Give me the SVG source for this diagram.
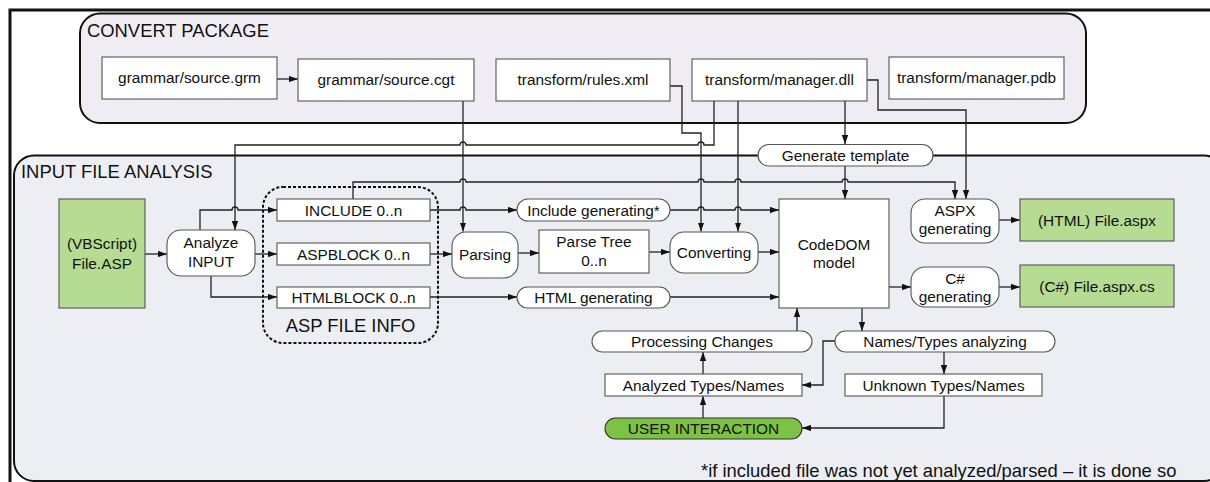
<svg xmlns="http://www.w3.org/2000/svg" width="1210" height="482" viewBox="0 0 1210 482">
<defs>
<style>
text{font-family:"Liberation Sans",Arial,sans-serif;fill:#111;}
.t{font-size:15.4px;text-anchor:middle;}
.big{font-size:18.4px;}
.box{fill:#fff;stroke:#555;stroke-width:1.1;}
.green{fill:#b5dc92;stroke:#555;stroke-width:1.1;}
.user{fill:#7dc242;stroke:#333;stroke-width:1.1;}
.con{fill:none;stroke:#222;stroke-width:1.3;}
.arr{marker-end:url(#ah);}
</style>
<marker id="ah" viewBox="0 0 10 7" refX="10" refY="3.5" markerWidth="9" markerHeight="6.5" markerUnits="userSpaceOnUse" orient="auto">
<path d="M0,0 L10,3.5 L0,7 z" fill="#111"/>
</marker>
</defs>
<rect width="1210" height="482" fill="#fff"/>
<path d="M10,482 V10 H1210" fill="none" stroke="#111" stroke-width="3"/>

<g id="convert-package">
<rect x="80" y="13.5" width="1006" height="109.5" rx="20" fill="#efedf3" stroke="#111" stroke-width="2"/>
<text class="big" x="87" y="37">CONVERT PACKAGE</text>
</g>
<g id="input-file-analysis">
<rect x="14" y="155.5" width="1210" height="325.5" rx="20" fill="#eceef4" stroke="#111" stroke-width="2"/>
<text class="big" x="21" y="178">INPUT FILE ANALYSIS</text>
</g>

<g id="connectors">
<path class="con arr" d="M277,79 H298"/>
<path class="con arr" d="M463,101 V231.5"/>
<path class="con arr" d="M714,101 V145 H704 a3,3 0 0 0 -6,0 H466 a3,3 0 0 0 -6,0 H235 V230"/>
<path class="con arr" d="M670,86 H682 V133 H701 V231.5"/>
<path class="con arr" d="M738,101 V231.5"/>
<path class="con arr" d="M845,101 V144"/>
<path class="con arr" d="M867,80 H878 V110 H966 V199"/>
<path class="con arr" d="M845,166 V199"/>
<path class="con arr" d="M353,199 V182 H460 a3,3 0 0 1 6,0 H698 a3,3 0 0 1 6,0 H735 a3,3 0 0 1 6,0 H842 a3,3 0 0 1 6,0 H955 V199"/>
<path class="con arr" d="M145,254 H167"/>
<path class="con arr" d="M200,230 V210 H232 a3,3 0 0 1 6,0 H277"/>
<path class="con arr" d="M255,254 H277"/>
<path class="con arr" d="M211,276 V297 H277"/>
<path class="con arr" d="M430,210 H460 a3,3 0 0 1 6,0 H517"/>
<path class="con arr" d="M670,210 H698 a3,3 0 0 1 6,0 H735 a3,3 0 0 1 6,0 H779"/>
<path class="con arr" d="M430,254 H452"/>
<path class="con arr" d="M518,253 H539"/>
<path class="con arr" d="M649,252 H670"/>
<path class="con arr" d="M758,252 H779"/>
<path class="con arr" d="M430,297 H517"/>
<path class="con arr" d="M670,297 H779"/>
<path class="con arr" d="M999,220 H1020"/>
<path class="con arr" d="M889,287 H911"/>
<path class="con arr" d="M999,287 H1020"/>
<path class="con arr" d="M862,308 V331"/>
<path class="con arr" d="M797,331 V308"/>
<path class="con arr" d="M835,341 H823 V385 H802"/>
<path class="con arr" d="M944,352 V374"/>
<path class="con arr" d="M703,374 V352"/>
<path class="con arr" d="M703,418 V396"/>
<path class="con arr" d="M944,396 V428 H802"/>
</g>

<g id="grammar-grm"><rect class="box" x="102" y="57" width="175" height="42"/><text class="t" x="189.5" y="83">grammar/source.grm</text></g>
<g id="grammar-cgt"><rect class="box" x="298" y="59" width="176" height="42"/><text class="t" x="386" y="85">grammar/source.cgt</text></g>
<g id="rules-xml"><rect class="box" x="496" y="59" width="174" height="42"/><text class="t" x="583" y="85">transform/rules.xml</text></g>
<g id="manager-dll"><rect class="box" x="692" y="59" width="175" height="42"/><text class="t" x="779.5" y="85">transform/manager.dll</text></g>
<g id="manager-pdb"><rect class="box" x="889" y="57" width="175" height="42"/><text class="t" x="976.5" y="83">transform/manager.pdb</text></g>

<g id="generate-template"><rect class="box" x="758" y="144.5" width="175" height="21.5" rx="10.75"/><text class="t" x="845.5" y="160.5">Generate template</text></g>

<g id="asp-file-info">
<rect x="263" y="187" width="175" height="156" rx="20" fill="none" stroke="#111" stroke-width="2" stroke-dasharray="3,2"/>
<text class="big" x="350.5" y="332" text-anchor="middle">ASP FILE INFO</text>
</g>

<g id="file-asp"><rect class="green" x="59" y="199" width="86" height="109"/><text class="t" x="102" y="249">(VBScript)</text><text class="t" x="102" y="269">File.ASP</text></g>
<g id="analyze-input"><rect class="box" x="167" y="230" width="88" height="46" rx="14"/><text class="t" x="211" y="248">Analyze</text><text class="t" x="211" y="267">INPUT</text></g>
<g id="include"><rect class="box" x="277" y="199" width="153" height="22"/><text class="t" x="353.5" y="215.5">INCLUDE 0..n</text></g>
<g id="aspblock"><rect class="box" x="277" y="243" width="153" height="22"/><text class="t" x="353.5" y="259.5">ASPBLOCK 0..n</text></g>
<g id="htmlblock"><rect class="box" x="277" y="287" width="153" height="21"/><text class="t" x="353.5" y="303">HTMLBLOCK 0..n</text></g>

<g id="include-generating"><rect class="box" x="517" y="199" width="153" height="22" rx="11"/><text class="t" x="593.5" y="215.5">Include generating*</text></g>
<g id="parsing"><rect class="box" x="452" y="232" width="66" height="46" rx="14"/><text class="t" x="485" y="260">Parsing</text></g>
<g id="parse-tree"><rect class="box" x="539" y="230" width="110" height="43"/><text class="t" x="594" y="247">Parse Tree</text><text class="t" x="594" y="265.5">0..n</text></g>
<g id="converting"><rect class="box" x="670" y="232" width="88" height="41" rx="14"/><text class="t" x="714" y="257.5">Converting</text></g>
<g id="html-generating"><rect class="box" x="517" y="287" width="153" height="21" rx="10.5"/><text class="t" x="593.5" y="303">HTML generating</text></g>

<g id="codedom"><rect class="box" x="779" y="199" width="110" height="109"/><text class="t" x="834" y="250">CodeDOM</text><text class="t" x="834" y="268">model</text></g>
<g id="aspx-generating"><rect class="box" x="911" y="199" width="88" height="44" rx="14"/><text class="t" x="955" y="216">ASPX</text><text class="t" x="955" y="234">generating</text></g>
<g id="cs-generating"><rect class="box" x="911" y="267" width="88" height="40" rx="14"/><text class="t" x="955" y="284">C#</text><text class="t" x="955" y="302">generating</text></g>
<g id="file-aspx"><rect class="green" x="1020" y="199" width="154" height="42"/><text class="t" x="1097" y="225.5">(HTML) File.aspx</text></g>
<g id="file-aspx-cs"><rect class="green" x="1020" y="265" width="154" height="42"/><text class="t" x="1097" y="291.5">(C#) File.aspx.cs</text></g>

<g id="processing-changes"><rect class="box" x="592" y="331" width="220" height="21" rx="10.5"/><text class="t" x="702" y="347">Processing Changes</text></g>
<g id="names-types-analyzing"><rect class="box" x="835" y="331" width="220" height="21" rx="10.5"/><text class="t" x="945" y="347">Names/Types analyzing</text></g>
<g id="analyzed-types"><rect class="box" x="605" y="374" width="197" height="22"/><text class="t" x="703.5" y="390.5">Analyzed Types/Names</text></g>
<g id="unknown-types"><rect class="box" x="845" y="374" width="197" height="22"/><text class="t" x="943.5" y="390.5">Unknown Types/Names</text></g>
<g id="user-interaction"><rect class="user" x="605" y="418" width="197" height="21" rx="10.5"/><text class="t" x="703.5" y="434">USER INTERACTION</text></g>

<text class="big" x="701" y="477">*if included file was not yet analyzed/parsed – it is done so</text>
</svg>
